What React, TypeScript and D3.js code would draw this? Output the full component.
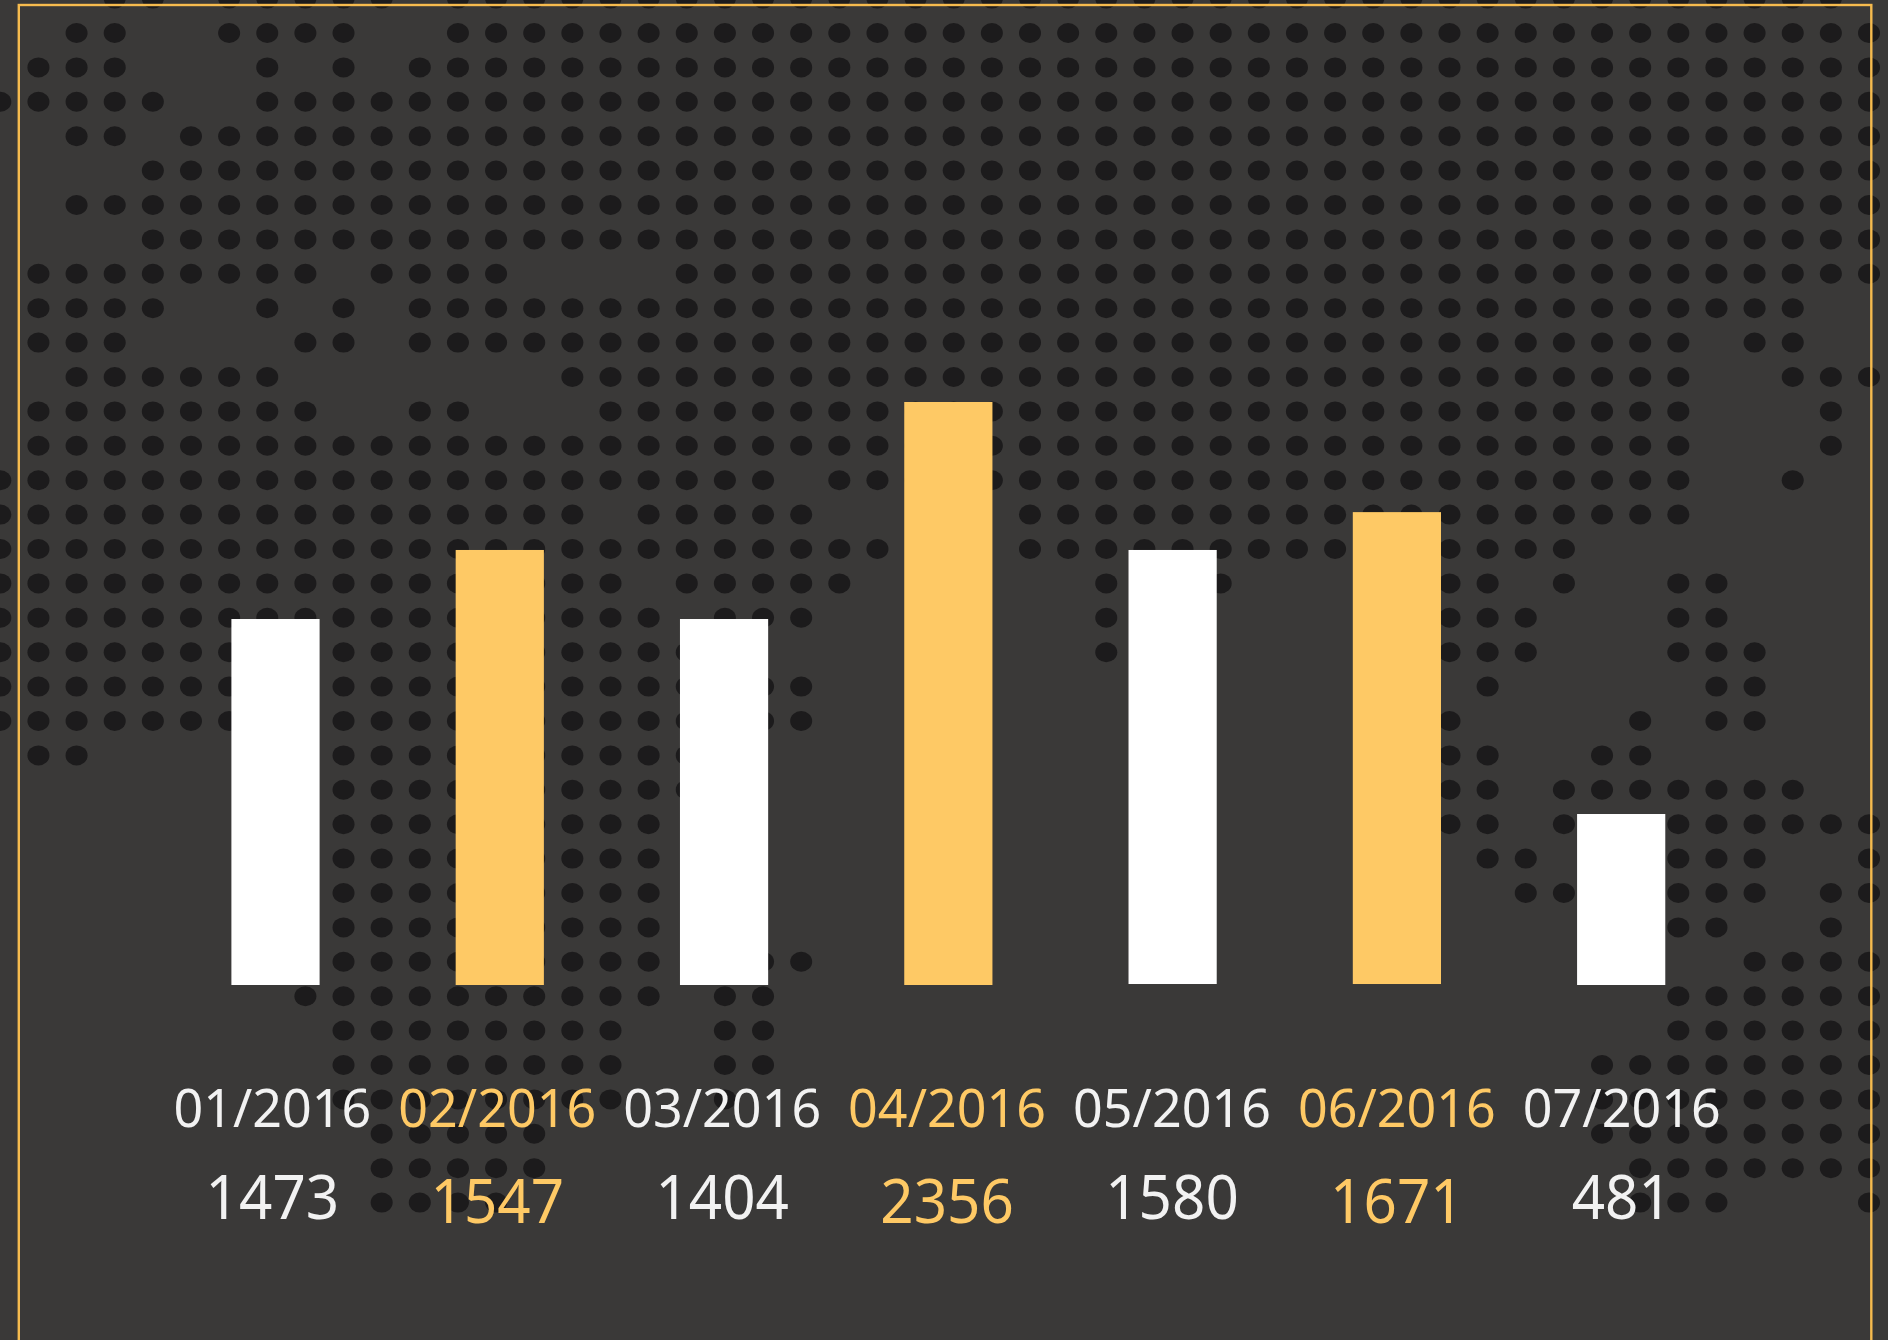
import React, { useEffect, useRef } from 'react';
import * as d3 from 'd3';

const months = ['01/2016', '02/2016', '03/2016', '04/2016', '05/2016', '06/2016', '07/2016'];
// numbers printed under the bars
const printedValues = [1473, 1547, 1404, 2356, 1580, 1671, 481];
// the bars are not drawn in proportion to the printed numbers, so these are read off the bar heights
const barTops = [1479, 1758, 1479, 2356, 1758, 1911, 691];
const barBases = [0, 0, 0, 0, 4, 4, 0];
const highlighted = [false, true, false, true, false, true, false];

// background dot map: one list of [firstColumn, lastColumn] runs per row
const dotRuns = [
  [[3, 4], [6, 10], [12, 48]],
  [[2, 3], [6, 9], [12, 49]],
  [[1, 3], [7, 7], [9, 9], [11, 49]],
  [[0, 4], [7, 49]],
  [[2, 3], [5, 49]],
  [[4, 49]],
  [[2, 49]],
  [[4, 49]],
  [[1, 8], [10, 13], [18, 49]],
  [[1, 4], [7, 7], [9, 9], [11, 47]],
  [[1, 3], [8, 9], [11, 44], [46, 47]],
  [[2, 7], [15, 44], [47, 49]],
  [[1, 8], [11, 12], [16, 44], [48, 48]],
  [[1, 44], [48, 48]],
  [[0, 20], [22, 44], [47, 47]],
  [[0, 15], [17, 21], [27, 44]],
  [[0, 23], [27, 41]],
  [[0, 16], [18, 22], [29, 29], [32, 32], [38, 39], [41, 41], [44, 45]],
  [[0, 17], [19, 21], [29, 29], [38, 40], [44, 45]],
  [[0, 18], [29, 29], [38, 40], [44, 46]],
  [[0, 18], [20, 21], [39, 39], [45, 46]],
  [[0, 18], [20, 21], [38, 38], [43, 43], [45, 46]],
  [[1, 2], [9, 18], [38, 39], [42, 43]],
  [[9, 18], [38, 39], [41, 47]],
  [[9, 17], [38, 39], [41, 41], [44, 49]],
  [[9, 17], [39, 40], [44, 46], [49, 49]],
  [[9, 17], [40, 41], [44, 46], [48, 49]],
  [[9, 17], [44, 45], [48, 48]],
  [[9, 17], [20, 21], [46, 49]],
  [[8, 17], [19, 20], [44, 49]],
  [[9, 16], [19, 20], [44, 49]],
  [[9, 16], [19, 20], [42, 49]],
  [[9, 16], [19, 19], [42, 49]],
  [[10, 14], [42, 49]],
  [[10, 14], [43, 49]],
  [[10, 13], [43, 45], [49, 49]],
];

const GOLD = '#fec965';
const TEXT_WHITE = '#f2f2f2';

const App = () => {
  const container = useRef<SVGSVGElement | null>(null);

  useEffect(() => {
    const svg = d3.select(container.current);
    svg.selectAll('*').remove();

    const width = 1888;
    const height = 1340;

    svg.append('rect').attr('width', width).attr('height', height).attr('fill', '#3a3938');

    // dot map
    const dotX = d3.scaleLinear().domain([0, 49]).range([0.3, 1869]);
    const dotY = d3.scaleLinear().domain([0, 35]).range([-1.4, 1202.6]);
    const dots = dotRuns.flatMap((runs, row) =>
      runs.flatMap(([a, b]) => d3.range(a, b + 1).map((col) => ({ row, col })))
    );
    svg
      .append('g')
      .selectAll('ellipse')
      .data(dots)
      .enter()
      .append('ellipse')
      .attr('cx', (d) => dotX(d.col))
      .attr('cy', (d) => dotY(d.row))
      .attr('rx', 11)
      .attr('ry', 10)
      .attr('fill', '#1c1b1c');

    // frame runs off the bottom of the picture
    svg
      .append('rect')
      .attr('x', 18.8)
      .attr('y', 5)
      .attr('width', 1852.5)
      .attr('height', 1400)
      .attr('fill', 'none')
      .attr('stroke', '#f6bb4e')
      .attr('stroke-width', 2.4);

    const x = d3.scaleBand().domain(months).range([163.36, 1733.32]).paddingInner(0.60674).paddingOuter(0.30337);
    const y = d3.scaleLinear().domain([0, 2356]).range([985, 402]);
    const labelX = d3.scalePoint().domain(months).range([272.4, 1621.8]);

    svg
      .append('g')
      .selectAll('rect')
      .data(months)
      .enter()
      .append('rect')
      .attr('x', (d) => x(d))
      .attr('y', (d, i) => y(barTops[i]))
      .attr('width', x.bandwidth())
      .attr('height', (d, i) => y(barBases[i]) - y(barTops[i]))
      .attr('fill', (d, i) => (highlighted[i] ? GOLD : '#ffffff'));

    const font = '"Noto Sans", sans-serif';

    svg
      .append('g')
      .selectAll('text')
      .data(months)
      .enter()
      .append('text')
      .attr('x', (d) => labelX(d))
      .attr('y', 1127.3)
      .attr('text-anchor', 'middle')
      .attr('font-family', font)
      .attr('font-size', 53.6)
      .attr('textLength', 198)
      .attr('lengthAdjust', 'spacingAndGlyphs')
      .attr('fill', (d, i) => (highlighted[i] ? GOLD : TEXT_WHITE))
      .text((d) => d);

    svg
      .append('g')
      .selectAll('text')
      .data(months)
      .enter()
      .append('text')
      .attr('x', (d) => labelX(d))
      .attr('y', (d, i) => (highlighted[i] ? 1223.3 : 1219.3))
      .attr('text-anchor', 'middle')
      .attr('font-family', font)
      .attr('font-size', 62)
      .attr('textLength', (d, i) => String(printedValues[i]).length * 33.4)
      .attr('lengthAdjust', 'spacingAndGlyphs')
      .attr('fill', (d, i) => (highlighted[i] ? GOLD : TEXT_WHITE))
      .text((d, i) => printedValues[i]);
  }, []);

  return <svg ref={container} width="1888" height="1340" style={{ position: 'absolute', left: 0, top: 0, display: 'block' }} />;
};

export default App;
